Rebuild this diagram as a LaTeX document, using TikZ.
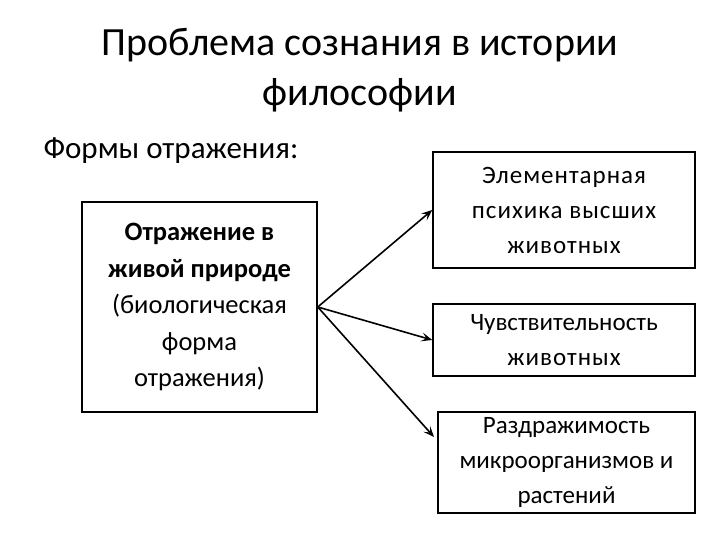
\documentclass[tikz,border=0pt]{standalone}
\usepackage{fontspec}
\setmainfont{Carlito}
\usetikzlibrary{arrows.meta}
\tikzset{
  box/.style={draw=black, line width=1.5pt, align=center, inner sep=0pt, font=\fontsize{25}{35}\selectfont},
  conn/.style={line width=1.6pt, -{Stealth[length=11pt,width=9pt,inset=5pt]}},
  title/.style={align=center, font=\fontsize{40}{50}\selectfont},
}
\begin{document}
\begin{tikzpicture}[x=1pt,y=-1pt]
\useasboundingbox (0,0) rectangle (720,540);
\node[title] (T) at (360,70) {Проблема сознания в истории\\философии};
\node[anchor=west, font=\fontsize{31}{36}\selectfont] (F) at (40,151) {Формы отражения:};
\node[box, minimum width=235pt, minimum height=210pt, font=\fontsize{26.5}{36.5}\selectfont] (L) at (199.5,307)
  {\textbf{Отражение в}\\\textbf{живой природе}\\(биологическая\\форма\\отражения)};
\node[box, minimum width=262pt, minimum height=116pt] (B1) at (564,210)
  {\addfontfeature{LetterSpace=4}Элементарная\\\addfontfeature{LetterSpace=4}психика высших\\\addfontfeature{LetterSpace=4}животных};
\node[box, minimum width=262pt, minimum height=72pt] (B2) at (564,340)
  {Чувствительность\\\addfontfeature{LetterSpace=4}животных};
\node[box, minimum width=257pt, minimum height=101pt] (B3) at (566.5,462.5)
  {Раздражимость\\микроорганизмов и\\растений};
\coordinate (E3) at (434,437);
\draw[conn] (L.east) -- (B1.west);
\draw[conn] (L.east) -- (B2.west);
\draw[conn] (L.east) -- (E3);
\end{tikzpicture}
\end{document}
